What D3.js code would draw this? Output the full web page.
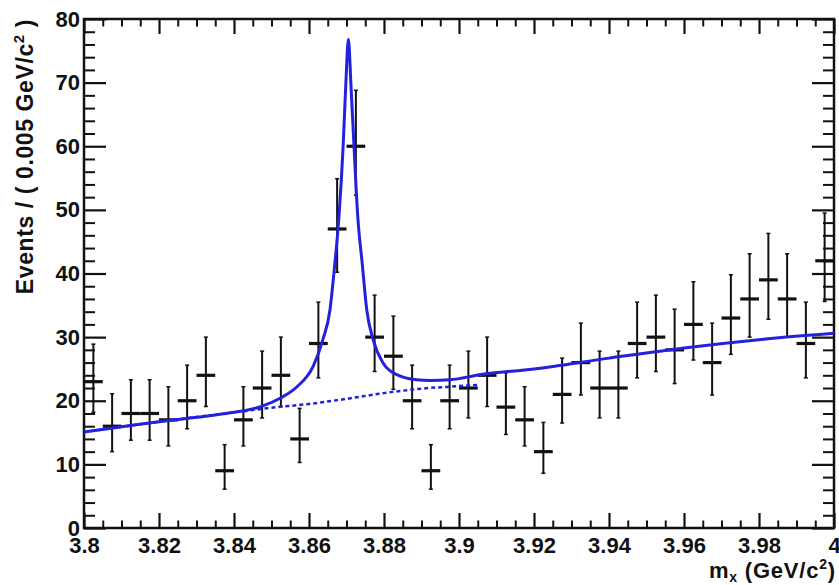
<!DOCTYPE html>
<html>
<head>
<meta charset="utf-8">
<script src="https://cdn.jsdelivr.net/npm/d3@7"></script>
<style>
    body { margin: 0; background: #fff; }
    svg { display: block; }
    text { font-family: "Liberation Sans", Arial, sans-serif; font-weight: bold; fill: #111; }
</style>
</head>
<body>
<div id="chart"></div>
<script>
// bin centres (0.005 GeV/c^2 bins) and counts
const binCenters = [3.8025, 3.8075, 3.8125, 3.8175, 3.8225, 3.8275, 3.8325, 3.8375, 3.8425, 3.8475,
                    3.8525, 3.8575, 3.8625, 3.8675, 3.8725, 3.8775, 3.8825, 3.8875, 3.8925, 3.8975,
                    3.9025, 3.9075, 3.9125, 3.9175, 3.9225, 3.9275, 3.9325, 3.9375, 3.9425, 3.9475,
                    3.9525, 3.9575, 3.9625, 3.9675, 3.9725, 3.9775, 3.9825, 3.9875, 3.9925, 3.9975];
const counts = [23, 16, 18, 18, 17, 20, 24, 9, 17, 22,
                24, 14, 29, 47, 60, 30, 27, 20, 9, 20,
                22, 24, 19, 17, 12, 21, 26, 22, 22, 29,
                30, 28, 32, 26, 33, 36, 39, 36, 29, 42];
const errLow = [4.8, 4.0, 4.2, 4.2, 4.1, 4.4, 4.9, 2.9, 4.1, 4.7,
                4.9, 3.7, 5.4, 6.8, 7.7, 5.4, 5.2, 4.4, 2.9, 4.4,
                4.7, 4.9, 4.3, 4.1, 3.4, 4.5, 5.1, 4.7, 4.7, 5.4,
                5.4, 5.3, 5.6, 5.1, 5.7, 6.0, 6.2, 6.0, 5.4, 6.4];
const errHigh = [5.9, 5.1, 5.3, 5.3, 5.2, 5.6, 6.0, 4.1, 5.2, 5.8,
                 6.0, 4.8, 6.5, 7.9, 8.8, 6.6, 6.3, 5.6, 4.1, 5.6,
                 5.8, 6.0, 5.4, 5.2, 4.6, 5.7, 6.2, 5.8, 5.8, 6.5,
                 6.6, 6.4, 6.7, 6.2, 6.8, 7.1, 7.3, 7.1, 6.5, 7.5];
const binWidth = 0.005;

// total fit (signal + background)
const fitMass = [3.800, 3.810, 3.820, 3.830, 3.839, 3.8477, 3.8523, 3.8568, 3.8611, 3.8637,
                 3.8656, 3.8668, 3.8680, 3.8691, 3.8698, 3.8705, 3.8712, 3.8720, 3.8730, 3.8742,
                 3.8754, 3.8771, 3.8798, 3.8834, 3.8887, 3.8923, 3.8976, 3.9056, 3.920, 3.940,
                 3.960, 3.980, 4.000];
const fitEvents = [15.1, 15.9, 16.7, 17.4, 18.1, 19.2, 20.4, 22.2, 25.4, 29.6,
                   34.3, 41.0, 49.0, 60.0, 69.5, 76.8, 69.5, 60.0, 49.0, 41.5,
                   34.3, 29.6, 25.9, 24.1, 23.3, 23.2, 23.3, 24.1, 25.0, 26.7,
                   28.3, 29.6, 30.6];

// background component (dashed)
const bkgMass = [3.800, 3.820, 3.839, 3.850, 3.860, 3.870, 3.880, 3.890, 3.900, 3.905];
const bkgEvents = [15.1, 16.7, 18.1, 18.9, 19.5, 20.3, 21.2, 21.9, 22.3, 22.5];

const xTicks = [3.8, 3.82, 3.84, 3.86, 3.88, 3.9, 3.92, 3.94, 3.96, 3.98, 4.0];
const xTickLabels = ['3.8', '3.82', '3.84', '3.86', '3.88', '3.9', '3.92', '3.94', '3.96', '3.98', '4'];
const yTicks = [0, 10, 20, 30, 40, 50, 60, 70, 80];
const yTickLabels = ['0', '10', '20', '30', '40', '50', '60', '70', '80'];

const W = 839, H = 585;
const margin = { top: 19, right: 5, bottom: 57, left: 84 };
const width = W - margin.left - margin.right;
const height = H - margin.top - margin.bottom;

const svg = d3.select('#chart').append('svg')
    .attr('width', W)
    .attr('height', H);

const g = svg.append('g')
    .attr('transform', `translate(${margin.left},${margin.top})`);

const x = d3.scaleLinear().domain([3.8, 4.0]).range([0, width]);
const y = d3.scaleLinear().domain([0, 80]).range([height, 0]);

const xMinor = d3.range(0, 41).map(i => 3.8 + i * 0.005).filter((d, i) => i % 4 !== 0);
const yMinor = d3.range(0, 41).map(i => i * 2).filter(d => d % 10 !== 0);

function styleAxis(sel, width) {
    sel.select('.domain').remove();
    sel.selectAll('line').attr('stroke', '#111').attr('stroke-width', width);
}

// bottom
g.append('g').attr('transform', `translate(0,${height})`)
    .call(d3.axisBottom(x).tickValues(xTicks).tickSize(-15).tickPadding(9)
        .tickFormat((d, i) => xTickLabels[i]))
    .call(styleAxis, 2.2)
    .selectAll('text').attr('font-size', 22);
g.append('g').attr('transform', `translate(0,${height})`)
    .call(d3.axisBottom(x).tickValues(xMinor).tickSize(-7.5).tickFormat(''))
    .call(styleAxis, 2);

// top
g.append('g')
    .call(d3.axisTop(x).tickValues(xTicks).tickSize(-15).tickFormat(''))
    .call(styleAxis, 2.2);
g.append('g')
    .call(d3.axisTop(x).tickValues(xMinor).tickSize(-7.5).tickFormat(''))
    .call(styleAxis, 2);

// left
g.append('g')
    .call(d3.axisLeft(y).tickValues(yTicks).tickSize(-22).tickPadding(4)
        .tickFormat((d, i) => yTickLabels[i]))
    .call(styleAxis, 2.2)
    .selectAll('text').attr('font-size', 22);
g.append('g')
    .call(d3.axisLeft(y).tickValues(yMinor).tickSize(-11).tickFormat(''))
    .call(styleAxis, 2);

// right
g.append('g').attr('transform', `translate(${width},0)`)
    .call(d3.axisRight(y).tickValues(yTicks).tickSize(-22).tickFormat(''))
    .call(styleAxis, 2.2);
g.append('g').attr('transform', `translate(${width},0)`)
    .call(d3.axisRight(y).tickValues(yMinor).tickSize(-11).tickFormat(''))
    .call(styleAxis, 2);

// frame
g.append('rect')
    .attr('width', width)
    .attr('height', height)
    .attr('fill', 'none')
    .attr('stroke', '#111')
    .attr('stroke-width', 2.5);

// data points with asymmetric errors
const points = g.append('g').selectAll('g')
    .data(counts.map((c, i) => ({ m: binCenters[i], n: c, lo: errLow[i], hi: errHigh[i] })))
    .join('g')
    .attr('stroke', '#111');

points.append('line')
    .attr('x1', d => x(d.m)).attr('x2', d => x(d.m))
    .attr('y1', d => y(d.n - d.lo)).attr('y2', d => y(d.n + d.hi))
    .attr('stroke-width', 2);
points.append('line')
    .attr('x1', d => x(d.m - binWidth / 2)).attr('x2', d => x(d.m + binWidth / 2))
    .attr('y1', d => y(d.n)).attr('y2', d => y(d.n))
    .attr('stroke-width', 3.2);
points.append('line')
    .attr('x1', d => x(d.m) - 2).attr('x2', d => x(d.m) + 2)
    .attr('y1', d => y(d.n + d.hi)).attr('y2', d => y(d.n + d.hi))
    .attr('stroke-width', 1.5);
points.append('line')
    .attr('x1', d => x(d.m) - 2).attr('x2', d => x(d.m) + 2)
    .attr('y1', d => y(d.n - d.lo)).attr('y2', d => y(d.n - d.lo))
    .attr('stroke-width', 1.5);

// fit curves
const line = d3.line()
    .x(d => x(d[0]))
    .y(d => y(d[1]))
    .curve(d3.curveMonotoneX);

g.append('path')
    .attr('d', line(bkgMass.map((m, i) => [m, bkgEvents[i]])))
    .attr('fill', 'none')
    .attr('stroke', '#2222dd')
    .attr('stroke-width', 2.5)
    .attr('stroke-dasharray', '4 3');

g.append('path')
    .attr('d', line(fitMass.map((m, i) => [m, fitEvents[i]])))
    .attr('fill', 'none')
    .attr('stroke', '#2222dd')
    .attr('stroke-width', 3);

// axis titles
const yTitle = svg.append('text')
    .attr('transform', `translate(33,${margin.top}) rotate(-90)`)
    .attr('text-anchor', 'end')
    .attr('font-size', 23)
    .attr('letter-spacing', 0.6);
yTitle.append('tspan').text('Events / ( 0.005 GeV/c');
yTitle.append('tspan').attr('font-size', 15).attr('dy', -9).text('2');
yTitle.append('tspan').attr('dy', 9).text(' )');

const xTitle = svg.append('text')
    .attr('x', margin.left + width + 2)
    .attr('y', 578)
    .attr('text-anchor', 'end')
    .attr('font-size', 22)
    .attr('letter-spacing', 0.8);
xTitle.append('tspan').text('m');
xTitle.append('tspan').attr('font-size', 14).attr('dy', 4).text('x');
xTitle.append('tspan').attr('dy', -4).text(' (GeV/c');
xTitle.append('tspan').attr('font-size', 14).attr('dy', -9).text('2');
xTitle.append('tspan').attr('dy', 9).text(')');
</script>
</body>
</html>
